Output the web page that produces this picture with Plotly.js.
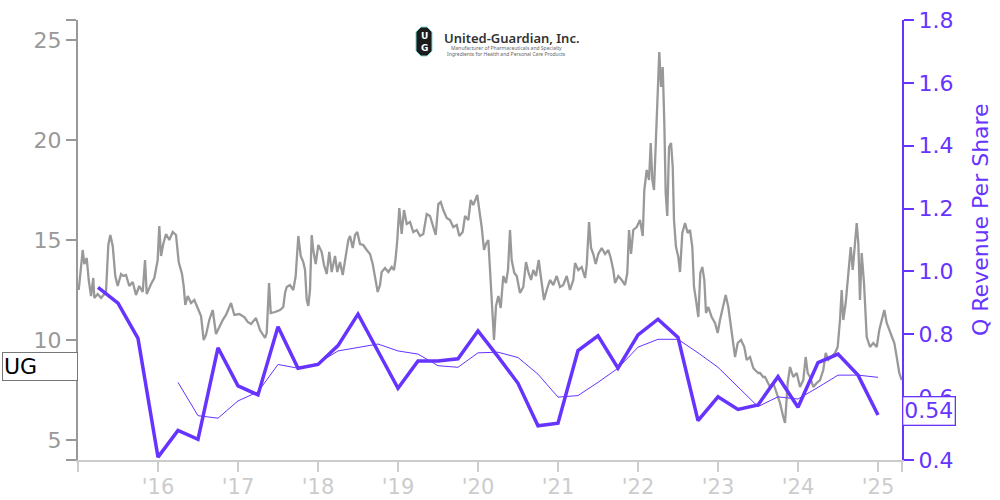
<!DOCTYPE html>
<html>
<head>
<meta charset="utf-8">
<script src="https://cdn.plot.ly/plotly-3.0.1.min.js"></script>
<style>html,body{margin:0;padding:0;background:#fff;}#chart{width:1000px;height:500px;}</style>
</head>
<body>
<div id="chart"></div>
<script>
// ---- Data ----
// Daily share price of UG (decimal year, price in $)
const priceSeries = [
[2015.009,12.5],[2015.059,14.5],[2015.079,13.8],[2015.109,14.1],[2015.134,13.0],[2015.163,12.2],[2015.191,13.1],[2015.204,12.1],[2015.246,12.3],[2015.288,12.1],[2015.350,12.4],[2015.379,14.75],[2015.404,15.25],[2015.434,14.7],[2015.466,13.2],[2015.496,12.7],[2015.538,13.3],[2015.566,13.2],[2015.600,13.25],[2015.641,12.7],[2015.684,12.9],[2015.725,12.25],[2015.766,12.7],[2015.809,12.4],[2015.838,14.0],[2015.859,12.3],[2015.913,12.8],[2015.954,13.1],[2015.996,14.0],
[2016.016,15.7],[2016.038,14.2],[2016.066,14.8],[2016.100,15.3],[2016.141,15.0],[2016.184,15.4],[2016.225,15.25],[2016.259,13.9],[2016.300,13.3],[2016.321,12.7],[2016.341,11.75],[2016.371,12.2],[2016.413,11.85],[2016.454,12.0],[2016.496,11.6],[2016.538,11.2],[2016.571,10.0],[2016.600,10.25],[2016.641,11.0],[2016.684,11.5],[2016.725,10.3],[2016.766,10.65],[2016.809,11.0],[2016.850,11.25],[2016.913,11.85],[2016.954,11.25],
[2017.016,11.3],[2017.079,11.15],[2017.121,10.9],[2017.163,10.8],[2017.225,11.1],[2017.275,10.5],[2017.338,10.1],[2017.359,10.35],[2017.388,12.85],[2017.409,11.35],[2017.463,11.4],[2017.525,11.5],[2017.566,11.65],[2017.588,12.35],[2017.609,12.65],[2017.650,12.75],[2017.691,12.5],[2017.721,13.2],[2017.754,15.2],[2017.784,14.2],[2017.816,13.9],[2017.838,13.5],[2017.859,12.0],[2017.879,11.7],[2017.900,12.5],[2017.921,15.25],[2017.941,14.5],[2017.971,13.8],
[2018.004,14.75],[2018.046,14.4],[2018.075,13.75],[2018.109,13.3],[2018.141,14.4],[2018.171,13.4],[2018.213,14.2],[2018.241,13.4],[2018.275,13.9],[2018.309,13.25],[2018.346,14.2],[2018.379,15.0],[2018.400,15.2],[2018.434,14.6],[2018.463,15.25],[2018.491,15.4],[2018.525,14.8],[2018.566,14.75],[2018.609,14.5],[2018.650,14.3],[2018.684,13.8],[2018.713,13.2],[2018.746,12.4],[2018.775,12.75],[2018.796,13.4],[2018.838,13.6],[2018.879,13.4],[2018.921,13.65],[2018.950,13.5],[2018.971,14.1],[2018.991,15.0],
[2019.016,16.6],[2019.046,15.3],[2019.075,16.5],[2019.109,15.8],[2019.150,15.9],[2019.191,15.4],[2019.234,15.5],[2019.275,15.2],[2019.316,15.3],[2019.359,16.3],[2019.400,16.2],[2019.441,15.65],[2019.471,15.25],[2019.504,16.8],[2019.534,16.9],[2019.566,16.5],[2019.609,16.1],[2019.650,16.0],[2019.691,15.65],[2019.734,15.75],[2019.766,15.2],[2019.809,15.4],[2019.838,16.2],[2019.879,16.0],[2019.909,17.0],[2019.941,16.75],[2019.971,17.0],[2019.991,17.25],
[2020.016,16.5],[2020.046,15.65],[2020.075,14.5],[2020.100,14.8],[2020.129,15.0],[2020.150,13.5],[2020.163,12.5],[2020.184,11.15],[2020.200,10.0],[2020.225,11.7],[2020.254,12.2],[2020.284,11.6],[2020.316,13.2],[2020.350,12.85],[2020.375,13.5],[2020.400,15.5],[2020.421,14.0],[2020.454,13.35],[2020.484,13.2],[2020.525,12.35],[2020.566,12.65],[2020.600,13.9],[2020.629,13.4],[2020.663,13.0],[2020.691,13.5],[2020.725,13.2],[2020.759,14.0],[2020.788,13.1],[2020.825,12.0],[2020.859,12.5],[2020.900,13.0],[2020.941,12.75],[2020.984,13.2],
[2021.025,12.65],[2021.066,12.75],[2021.109,13.2],[2021.150,12.5],[2021.191,13.0],[2021.213,13.85],[2021.254,13.5],[2021.296,13.65],[2021.338,13.1],[2021.359,13.75],[2021.388,15.9],[2021.413,14.6],[2021.441,14.3],[2021.471,13.8],[2021.504,14.3],[2021.546,14.6],[2021.588,14.3],[2021.629,14.5],[2021.659,14.1],[2021.691,13.5],[2021.713,12.85],[2021.754,13.2],[2021.796,13.0],[2021.838,12.75],[2021.866,13.35],[2021.888,15.5],[2021.913,14.3],[2021.941,15.5],[2021.984,15.65],
[2022.025,16.0],[2022.059,15.2],[2022.079,17.5],[2022.109,18.5],[2022.138,18.0],[2022.159,19.85],[2022.179,18.0],[2022.200,17.5],[2022.221,19.65],[2022.241,21.65],[2022.266,24.4],[2022.288,22.65],[2022.309,23.65],[2022.329,20.85],[2022.346,17.35],[2022.366,16.2],[2022.388,19.65],[2022.413,19.85],[2022.434,18.65],[2022.450,16.0],[2022.475,14.65],[2022.504,14.15],[2022.525,13.4],[2022.554,15.35],[2022.588,15.85],[2022.621,15.35],[2022.650,15.5],[2022.679,14.65],[2022.700,12.65],[2022.725,12.0],[2022.754,11.15],[2022.779,13.35],[2022.804,13.65],[2022.829,13.0],[2022.850,11.35],[2022.879,11.65],[2022.921,11.15],[2022.963,10.85],[2022.996,10.35],
[2023.025,11.0],[2023.066,11.65],[2023.096,12.25],[2023.129,11.65],[2023.163,10.65],[2023.191,10.0],[2023.213,9.15],[2023.246,9.85],[2023.288,10.0],[2023.329,9.65],[2023.359,9.0],[2023.400,9.15],[2023.441,8.6],[2023.463,8.5],[2023.504,8.35],[2023.525,8.35],[2023.566,8.15],[2023.588,8.15],[2023.650,7.65],[2023.691,7.85],[2023.734,7.35],[2023.775,6.85],[2023.816,6.15],[2023.838,5.85],[2023.871,7.85],[2023.900,8.65],[2023.941,8.15],[2023.984,8.35],
[2024.025,7.65],[2024.066,8.0],[2024.096,9.15],[2024.121,8.35],[2024.150,8.15],[2024.191,7.65],[2024.234,7.85],[2024.275,8.0],[2024.316,8.5],[2024.346,9.35],[2024.379,9.0],[2024.421,9.15],[2024.463,9.35],[2024.496,9.65],[2024.525,11.0],[2024.546,12.5],[2024.566,11.0],[2024.596,11.85],[2024.629,13.15],[2024.659,14.65],[2024.684,13.5],[2024.713,15.15],[2024.734,15.85],[2024.754,14.85],[2024.775,12.0],[2024.796,14.35],[2024.825,12.85],[2024.859,10.15],[2024.900,9.65],[2024.941,9.85],[2024.984,9.65],
[2025.016,10.5],[2025.046,11.0],[2025.079,11.5],[2025.109,10.85],[2025.141,10.5],[2025.171,10.15],[2025.204,9.85],[2025.234,9.15],[2025.266,8.35],[2025.296,8.0]
];

// Quarterly revenue per share (thick line)
const quarterYears = [2015.25,2015.5,2015.75,2016.0,2016.25,2016.5,2016.75,2017.0,2017.25,2017.5,2017.75,2018.0,2018.25,2018.5,2018.75,2019.0,2019.25,2019.5,2019.75,2020.0,2020.25,2020.5,2020.75,2021.0,2021.25,2021.5,2021.75,2022.0,2022.25,2022.5,2022.75,2023.0,2023.25,2023.5,2023.75,2024.0,2024.25,2024.5,2024.75,2025.0];
const qRevenue = [0.949,0.899,0.787,0.409,0.494,0.466,0.757,0.636,0.607,0.824,0.692,0.704,0.764,0.864,0.746,0.628,0.715,0.715,0.722,0.811,0.729,0.644,0.509,0.517,0.748,0.795,0.692,0.798,0.848,0.790,0.525,0.601,0.561,0.575,0.665,0.568,0.710,0.737,0.670,0.543];

// Four-quarter average (thin line)
const avgYears = [2016.25,2016.5,2016.75,2017.0,2017.25,2017.5,2017.75,2018.0,2018.25,2018.5,2018.75,2019.0,2019.25,2019.5,2019.75,2020.0,2020.25,2020.5,2020.75,2021.0,2021.25,2021.5,2021.75,2022.0,2022.25,2022.5,2022.75,2023.0,2023.25,2023.5,2023.75,2024.0,2024.25,2024.5,2024.75,2025.0];
const avgRevenue = [0.647,0.541,0.533,0.588,0.617,0.704,0.692,0.708,0.747,0.757,0.769,0.747,0.737,0.700,0.695,0.741,0.743,0.726,0.673,0.600,0.605,0.647,0.692,0.759,0.784,0.784,0.741,0.695,0.633,0.570,0.601,0.594,0.631,0.670,0.670,0.663];

// Tick labels
const xTickVals = [2015,2016,2017,2018,2019,2020,2021,2022,2023,2024,2025,2025.3];
const xTickText = ["","'16","'17","'18","'19","'20","'21","'22","'23","'24","'25",""];
const yTickVals = [4,5,10,15,20,25,26];
const yTickText = ["","5","10","15","20","25",""];
const tickerLabel = "UG";
const lastPriceLabelValue = 8.675;
const lastRevenueLabel = "0.54";
const lastRevenueLabelValue = 0.557;
const rightAxisTitle = "Q Revenue Per Share";

// ---- Layout helpers (pixel -> paper) ----
const M = {l:78, r:98, t:20, b:40};
const W = 1000, H = 500;
const PW = W - M.l - M.r, PH = H - M.t - M.b;
const px = x => (x - M.l) / PW;
const py = y => (H - M.b - y) / PH;

const PURPLE = '#6633FF';
const FONT = 'DejaVu Sans';

const traces = [
  {
    x: priceSeries.map(d => d[0]), y: priceSeries.map(d => d[1]),
    type: 'scatter', mode: 'lines', yaxis: 'y',
    line: {color: '#999999', width: 2.3}, hoverinfo: 'skip'
  },
  {
    x: avgYears, y: avgRevenue, type: 'scatter', mode: 'lines', yaxis: 'y2',
    line: {color: PURPLE, width: 1}, hoverinfo: 'skip'
  },
  {
    x: quarterYears, y: qRevenue, type: 'scatter', mode: 'lines', yaxis: 'y2',
    line: {color: PURPLE, width: 3.5}, hoverinfo: 'skip'
  }
];

const hexPts = [[416,32],[421,27],[427,27],[432,32],[432,51],[427,56],[421,56],[416,51]];
const hexPath = 'M' + hexPts.map(p => px(p[0]).toFixed(5) + ',' + py(p[1]).toFixed(5)).join(' L') + ' Z';

const layout = {
  width: W, height: H,
  margin: M,
  paper_bgcolor: '#ffffff', plot_bgcolor: '#ffffff',
  showlegend: false,
  font: {family: FONT, size: 22, color: '#999999'},
  xaxis: {
    range: [2015, 2025.3], showgrid: false, zeroline: false,
    showline: true, linecolor: '#cccccc', linewidth: 2,
    tickmode: 'array', tickvals: xTickVals, ticktext: xTickText,
    ticks: 'outside', ticklen: 10, tickwidth: 2, tickcolor: '#cccccc',
    ticklabelstandoff: -3,
    tickfont: {family: FONT, size: 21, color: '#cccccc'}
  },
  yaxis: {
    range: [4, 26], showgrid: false, zeroline: false,
    showline: true, linecolor: '#999999', linewidth: 2,
    tickmode: 'array', tickvals: yTickVals, ticktext: yTickText,
    ticks: 'outside', ticklen: 10, tickwidth: 2, tickcolor: '#999999',
    tickfont: {family: FONT, size: 22, color: '#999999'}
  },
  yaxis2: {
    overlaying: 'y', side: 'right', range: [0.4, 1.8],
    showgrid: false, zeroline: false,
    showline: true, linecolor: PURPLE, linewidth: 2,
    tickmode: 'linear', tick0: 0.4, dtick: 0.2, tickformat: '.1f',
    ticks: 'outside', ticklen: 10, tickwidth: 2, tickcolor: PURPLE,
    tickfont: {family: FONT, size: 22, color: PURPLE},
    automargin: false
  },
  shapes: [
    {type: 'path', xref: 'paper', yref: 'paper', path: hexPath,
     fillcolor: '#1b1b1b', line: {color: '#7fd6d0', width: 1}, layer: 'above'}
  ],
  annotations: [
    {xref: 'paper', yref: 'paper', x: px(980), y: py(220), xanchor: 'center', yanchor: 'middle',
     text: rightAxisTitle, textangle: -90, showarrow: false,
     font: {family: FONT, size: 22, color: PURPLE}},
    {xref: 'paper', yref: 'y', x: 0, y: lastPriceLabelValue, xanchor: 'right', yanchor: 'middle',
     text: tickerLabel, showarrow: false, align: 'left', width: 72,
     font: {family: FONT, size: 22, color: '#000000'},
     bgcolor: '#ffffff', bordercolor: '#777777', borderwidth: 1, borderpad: 1},
    {xref: 'paper', yref: 'y2', x: 1, y: lastRevenueLabelValue, xanchor: 'left', yanchor: 'middle',
     text: lastRevenueLabel, showarrow: false,
     font: {family: FONT, size: 22, color: PURPLE},
     bgcolor: '#ffffff', bordercolor: PURPLE, borderwidth: 1.3, borderpad: 1},
    {xref: 'paper', yref: 'paper', x: px(424), y: py(35.5), xanchor: 'center', yanchor: 'middle',
     text: '<b>U</b>', showarrow: false, font: {family: FONT, size: 9, color: '#ffffff'}},
    {xref: 'paper', yref: 'paper', x: px(424), y: py(47.5), xanchor: 'center', yanchor: 'middle',
     text: '<b>G</b>', showarrow: false, font: {family: FONT, size: 9, color: '#ffffff'}},
    {xref: 'paper', yref: 'paper', x: px(442), y: py(38), xanchor: 'left', yanchor: 'middle',
     text: 'United-Guardian, Inc.', showarrow: false, font: {family: 'Noto Sans', size: 13, weight: 600, color: '#333333'}},
    {xref: 'paper', yref: 'paper', x: px(506), y: py(48), xanchor: 'center', yanchor: 'middle',
     text: 'Manufacturer of Pharmaceuticals and Specialty', showarrow: false, font: {family: 'Noto Sans', size: 5, color: '#666666'}},
    {xref: 'paper', yref: 'paper', x: px(506), y: py(54), xanchor: 'center', yanchor: 'middle',
     text: 'Ingredients for Health and Personal Care Products', showarrow: false, font: {family: 'Noto Sans', size: 5, color: '#666666'}}
  ]
};

Plotly.newPlot('chart', traces, layout, {staticPlot: true, displayModeBar: false});
</script>
</body>
</html>
